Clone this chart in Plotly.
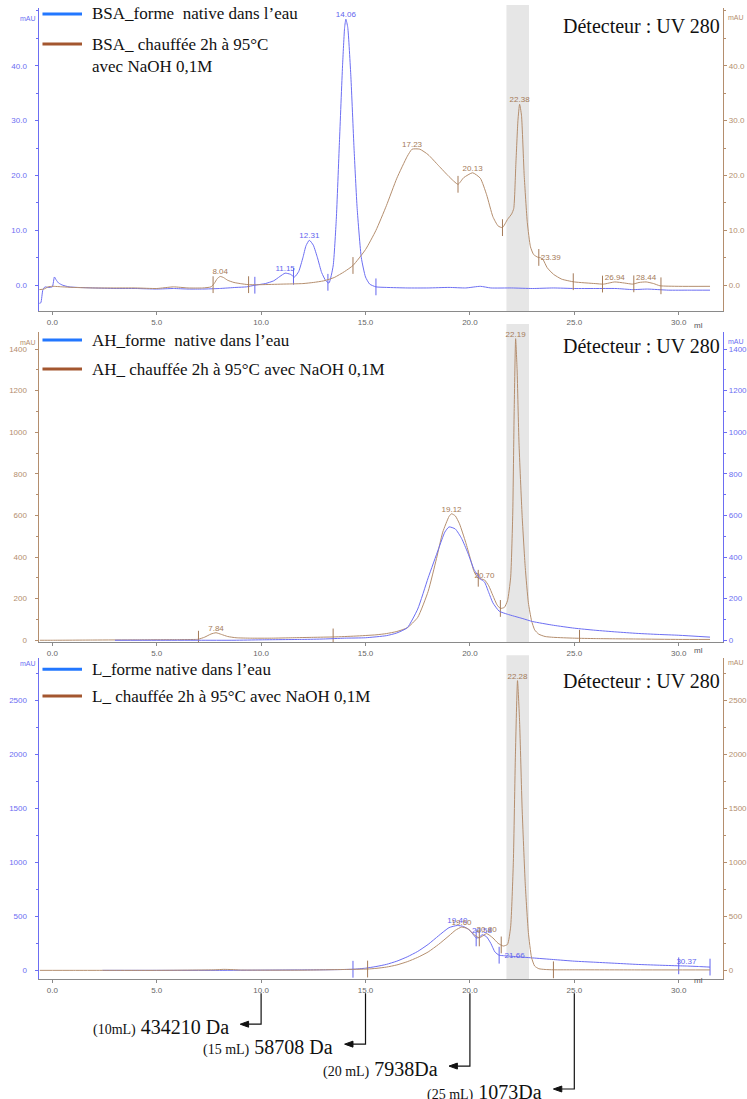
import numpy as np
import plotly.graph_objects as go

W, H = 747, 1099
def px(x): return x / W
def py(y): return 1 - y / H

# ---------------- DATA ----------------
# Panel 1 : BSA
bsa_nat_x = [-0.62, -0.55, -0.45, -0.35, -0.2, 0.0, 0.1, 0.18, 0.3, 0.5, 0.8, 1.2, 2.0, 3.0, 4.0, 5.0, 5.8, 6.5, 7.2, 8.0, 8.8, 9.3, 9.7, 10.2, 10.6, 10.9, 11.15, 11.4, 11.6, 11.8, 12.0, 12.15, 12.31, 12.5, 12.7, 12.9, 13.1, 13.25, 13.45, 13.6, 13.75, 13.9, 14.0, 14.06, 14.15, 14.3, 14.45, 14.6, 14.8, 15.0, 15.2, 15.5, 16.0, 17.0, 18.0, 19.0, 19.8, 20.5, 21.0, 22.0, 23.0, 24.0, 25.0, 26.0, 27.0, 27.8, 28.5, 29.5, 30.5, 31.5]
bsa_nat_y = [-3.3, -3.2, -0.8, -0.3, -0.4, -0.3, 1.5, 1.0, 0.4, 0.0, -0.3, -0.4, -0.5, -0.6, -0.6, -0.7, -0.6, -0.7, -0.7, -0.6, -0.4, -0.3, 0.0, 0.3, 0.8, 1.6, 2.2, 2.0, 1.5, 2.5, 5.0, 7.2, 8.2, 7.3, 5.0, 2.3, 0.8, 0.4, 3.5, 12.0, 26.0, 40.0, 47.0, 48.5, 47.0, 38.0, 25.0, 14.0, 5.0, 1.5, 0.2, -0.3, -0.4, -0.5, -0.5, -0.4, -0.5, -0.2, -0.5, -0.5, -0.6, -0.5, -0.6, -0.6, -0.6, -0.8, -0.7, -0.9, -0.9, -0.9]
bsa_heat_x = [-0.62, -0.4, -0.2, 0.0, 0.5, 1.0, 2.0, 3.0, 4.0, 5.0, 5.8, 6.5, 7.2, 7.6, 7.75, 7.9, 8.04, 8.2, 8.4, 8.7, 9.0, 9.4, 10.0, 11.0, 12.0, 12.5, 13.0, 13.5, 14.0, 14.4, 15.0, 15.5, 16.0, 16.5, 17.0, 17.23, 17.6, 18.0, 18.5, 19.0, 19.43, 19.7, 20.13, 20.5, 20.8, 21.1, 21.35, 21.56, 21.8, 22.0, 22.1, 22.2, 22.3, 22.38, 22.47, 22.6, 22.75, 22.9, 23.05, 23.25, 23.39, 23.5, 23.7, 24.0, 24.4, 25.0, 26.0, 26.4, 26.94, 27.4, 27.8, 28.1, 28.44, 28.8, 29.1, 30.0, 31.5]
bsa_heat_y = [-0.8, -0.7, -0.3, -0.2, -0.3, -0.4, -0.5, -0.5, -0.5, -0.6, -0.3, -0.5, -0.5, -0.3, 0.3, 1.2, 1.6, 1.4, 0.9, 0.5, 0.3, 0.1, 0.1, 0.2, 0.3, 0.5, 0.8, 1.4, 2.5, 3.6, 6.5, 10.0, 14.5, 19.5, 23.5, 24.8, 24.8, 23.8, 21.8, 19.8, 18.4, 19.6, 20.5, 19.5, 16.5, 12.5, 10.8, 10.5, 12.0, 13.0, 14.0, 22.0, 30.0, 33.0, 31.0, 20.0, 11.4, 7.0, 5.6, 5.1, 5.0, 4.7, 3.2, 2.0, 1.1, 0.6, 0.3, 0.2, 0.6, 0.4, 0.2, 0.5, 0.6, 0.3, -0.1, -0.2, -0.2]
bsa_nat_peaks = [11.15, 12.31, 14.06]
bsa_heat_peaks = [8.04, 17.23, 20.13, 22.38, 23.39, 26.94, 28.44]
bsa_nat_marks = [9.7, 11.55, 13.2, 15.5]
bsa_heat_marks = [7.7, 9.4, 14.4, 19.43, 21.56, 23.3, 24.95, 26.35, 27.85, 29.15]

# Panel 2 : AH
ah_heat_x = [-0.6, 0.0, 2.0, 4.0, 6.0, 6.9, 7.0, 7.3, 7.6, 7.84, 8.1, 8.4, 8.8, 9.5, 10.5, 11.5, 12.5, 13.5, 14.5, 15.5, 16.0, 16.5, 17.0, 17.5, 18.0, 18.4, 18.7, 19.0, 19.12, 19.3, 19.5, 19.8, 20.0, 20.2, 20.4, 20.7, 20.9, 21.1, 21.3, 21.46, 21.65, 21.8, 21.95, 22.05, 22.12, 22.19, 22.26, 22.35, 22.5, 22.65, 22.8, 22.95, 23.1, 23.3, 23.6, 24.0, 25.0, 26.0, 28.0, 30.0, 31.5]
ah_heat_y = [0, 0, 1, 2, 3, 4, 5, 15, 30, 36, 28, 18, 12, 10, 10, 12, 14, 16, 20, 26, 32, 42, 60, 110, 235, 393, 520, 595, 608, 598, 560, 470, 400, 330, 298, 290, 262, 215, 170, 153, 158, 190, 300, 600, 1100, 1450, 1300, 950, 600, 350, 180, 95, 50, 29, 18, 14, 10, 8, 6, 4, 4]
ah_nat_x = [3.0, 5.0, 7.0, 8.7, 10.0, 12.0, 13.0, 14.0, 15.0, 16.0, 16.5, 17.0, 17.5, 18.0, 18.5, 18.8, 19.0, 19.3, 19.6, 19.9, 20.2, 20.5, 20.7, 20.9, 21.1, 21.4, 21.8, 22.5, 23.0, 24.0, 25.0, 26.0, 27.0, 28.0, 29.0, 30.0, 31.5]
ah_nat_y = [0, 0, 0, 0, 2, 4, 6, 10, 12, 22, 35, 60, 150, 300, 440, 520, 545, 535, 490, 420, 340, 295, 280, 230, 180, 140, 125, 105, 90, 72, 58, 48, 40, 33, 28, 24, 15]
ah_heat_peaks = [7.84, 19.12, 20.70, 22.19]
ah_heat_marks = [7.0, 13.45, 20.4, 21.46, 25.25]

# Panel 3 : L
l_nat_x = [2.4, 4.0, 6.0, 8.0, 10.0, 12.0, 13.0, 14.0, 14.4, 15.0, 15.5, 16.0, 16.5, 17.0, 17.5, 18.0, 18.5, 19.0, 19.4, 19.7, 20.0, 20.3, 20.45, 20.58, 20.8, 21.0, 21.2, 21.4, 21.66, 22.0, 23.0, 24.0, 25.0, 26.0, 27.0, 28.0, 29.0, 30.0, 30.37, 31.0, 31.5]
l_nat_y = [0, 0, 0, 0, 2, 4, 5, 8, 10, 20, 35, 55, 85, 125, 175, 240, 320, 395, 415, 405, 370, 300, 305, 330, 310, 250, 170, 140, 135, 130, 115, 100, 85, 75, 65, 55, 48, 42, 40, 35, 30]
l_heat_x = [-0.6, 1.0, 2.4, 5.0, 7.8, 8.2, 8.6, 9.0, 12.0, 13.0, 14.0, 15.1, 15.5, 16.0, 16.5, 17.0, 17.5, 18.0, 18.5, 19.0, 19.3, 19.6, 19.9, 20.2, 20.45, 20.8, 21.1, 21.35, 21.6, 21.8, 21.95, 22.08, 22.18, 22.28, 22.38, 22.5, 22.65, 22.8, 22.95, 23.1, 23.3, 23.6, 24.0, 25.0, 28.0, 31.5]
l_heat_y = [0, 0, 0, 0, 5, 9, 7, 3, 2, 5, 8, 12, 18, 30, 50, 80, 120, 170, 240, 320, 370, 400, 385, 330, 300, 340, 300, 250, 225, 240, 400, 1000, 2000, 2680, 2300, 1500, 800, 350, 120, 40, 15, 8, 5, 5, 4, 4]
l_nat_peaks = [19.40, 20.58, 21.66, 30.37]
l_heat_peaks = [19.60, 20.80, 22.28]
l_nat_marks = [14.4, 20.3, 21.4, 30.0, 31.5]
l_heat_marks = [15.1, 20.45, 21.5, 24.0]

# Calibration annotations
calib_ml = [10, 15, 20, 25]
calib_vol = ["(10mL)", "(15 mL)", "(20 mL)", "(25 mL)"]
calib_da = ["434210 Da", "58708 Da", "7938Da", "1073Da"]

legend_native = ["BSA_forme  native dans l\u2019eau", "AH_forme  native dans l\u2019eau", "L_forme native dans l\u2019eau"]
legend_heat = ["BSA_ chauff\u00e9e 2h \u00e0 95\u00b0C<br>avec NaOH 0,1M", "AH_ chauff\u00e9e 2h \u00e0 95\u00b0C avec NaOH 0,1M", "L_ chauff\u00e9e 2h \u00e0 95\u00b0C avec NaOH 0,1M"]
detector_text = "D\u00e9tecteur : UV 280"

# ---------------- STYLE ----------------
BLUE = "#6c6ef2"
BROWN = "#b48e6e"
BLUE_T = "#6264ee"
BROWN_T = "#a47a58"
LEG_BLUE = "#2277ff"
LEG_BROWN = "#a3562f"
SANS = "Liberation Sans"
SERIF = "Liberation Serif"

X_DOMAIN = [px(39), px(732)]
X_RANGE = [-0.66, 32.13]

panels = [
    dict(top=8, bottom=312, zero=286, scale=5.5, ticks=[0, 10, 20, 30, 40], minor=5, fmt=".1f",
         left=BLUE, right=BROWN, leg_y=(14, 44), det_y=26),
    dict(top=333, bottom=644, zero=642, scale=0.20857, ticks=[0, 200, 400, 600, 800, 1000, 1200, 1400], minor=100, fmt="d",
         left=BROWN, right=BLUE, leg_y=(341, 370), det_y=347),
    dict(top=660, bottom=982, zero=973, scale=0.1084, ticks=[0, 500, 1000, 1500, 2000, 2500], minor=250, fmt="d",
         left=BLUE, right=BROWN, leg_y=(671, 698), det_y=683),
]

fig = go.Figure()
layout = dict(width=W, height=H, margin=dict(l=0, r=0, t=0, b=0),
              paper_bgcolor="white", plot_bgcolor="white", showlegend=False)
shapes, annotations = [], []

for i, p in enumerate(panels):
    n = i + 1
    xa = "xaxis" if n == 1 else f"xaxis{n}"
    xr = "x" if n == 1 else f"x{n}"
    yl_id = 2 * n - 1
    yr_id = 2 * n
    yl = "yaxis" if yl_id == 1 else f"yaxis{yl_id}"
    ylr = "y" if yl_id == 1 else f"y{yl_id}"
    yr = f"yaxis{yr_id}"
    yrange = [-(p["bottom"] - p["zero"]) / p["scale"], (p["zero"] - p["top"]) / p["scale"]]
    ydom = [py(p["bottom"]), py(p["top"])]
    layout[xa] = dict(domain=X_DOMAIN, range=X_RANGE, anchor=ylr, tickvals=[0, 5, 10, 15, 20, 25, 30],
                      tickformat=".1f", tickfont=dict(family=SANS, size=8, color="#666"),
                      showline=True, linecolor="#8a8a8a", linewidth=1, ticks="outside", ticklen=3,
                      tickcolor="#8a8a8a", showgrid=False, zeroline=False, fixedrange=True)
    common = dict(domain=ydom, range=yrange, tickvals=p["ticks"], tickformat=p["fmt"],
                  showgrid=False, zeroline=False, showline=True, linewidth=1, ticks="outside",
                  ticklen=3, fixedrange=True)
    layout[yl] = dict(common, anchor=xr, side="left", linecolor=p["left"], tickcolor=p["left"],
                      minor=dict(dtick=p["minor"], tick0=0, ticks="outside", ticklen=2, tickcolor=p["left"]),
                      tickfont=dict(family=SANS, size=8, color=p["left"]), ticklabelstandoff=6)
    layout[yr] = dict(common, anchor=xr, side="right", overlaying=ylr, linecolor=p["right"], tickcolor=p["right"],
                      minor=dict(dtick=p["minor"], tick0=0, ticks="outside", ticklen=2, tickcolor=p["right"]),
                      tickfont=dict(family=SANS, size=8, color=p["right"]), ticklabelstandoff=0)
    # shaded band
    shapes.append(dict(type="rect", xref=xr, yref=f"{ylr} domain", x0=21.75, x1=22.83, y0=0,
                       y1=1 + (8 if n == 2 else 3) / (p["bottom"] - p["top"]),
                       fillcolor="#e6e6e6", line=dict(width=0), layer="below"))
    # mAU labels
    annotations.append(dict(text="mAU", x=px(18), y=py(p["top"] + 5), xref="paper", yref="paper",
                            showarrow=False, font=dict(family=SANS, size=7, color=p["left"])))
    annotations.append(dict(text="mAU", x=px(735), y=py(p["top"] + 4), xref="paper", yref="paper",
                            xanchor="left", showarrow=False, font=dict(family=SANS, size=7, color=p["right"])))
    # ml label
    annotations.append(dict(text="ml", x=px(714), y=py(p["bottom"] + 8), xref="paper", yref="paper",
                            showarrow=False, font=dict(family=SANS, size=8, color="#555")))
    # legend
    ly1, ly2 = p["leg_y"]
    shapes.append(dict(type="line", xref="paper", yref="paper", x0=px(43), x1=px(83), y0=py(ly1), y1=py(ly1),
                       line=dict(color=LEG_BLUE, width=3)))
    shapes.append(dict(type="line", xref="paper", yref="paper", x0=px(43), x1=px(83), y0=py(ly2), y1=py(ly2),
                       line=dict(color=LEG_BROWN, width=3)))
    annotations.append(dict(text=legend_native[i], x=px(91), y=py(ly1), xref="paper", yref="paper",
                            xanchor="left", yanchor="middle", showarrow=False,
                            font=dict(family=SERIF, size=17, color="#111")))
    annotations.append(dict(text=legend_heat[i], x=px(91), y=py(ly2 - 11), xref="paper", yref="paper",
                            xanchor="left", yanchor="top", align="left", showarrow=False,
                            font=dict(family=SERIF, size=17, color="#111")))
    annotations.append(dict(text=detector_text, x=px(731), y=py(p["det_y"]), xref="paper", yref="paper",
                            xanchor="right", yanchor="middle", showarrow=False,
                            font=dict(family=SERIF, size=20, color="#111")))


def add_series(xs, ys, xr, yr, color, tcolor, peaks, marks, tpos=None):
    xs = np.array(xs, float); ys = np.array(ys, float)
    fig.add_trace(go.Scatter(x=xs, y=ys, xaxis=xr, yaxis=yr, mode="lines", hoverinfo="skip",
                             line=dict(color=color, width=1, shape="spline", smoothing=0.5)))
    if marks:
        my = np.interp(marks, xs, ys)
        fig.add_trace(go.Scatter(x=marks, y=my, xaxis=xr, yaxis=yr, mode="markers", hoverinfo="skip",
                                 marker=dict(symbol="line-ns", size=12, color=tcolor,
                                             line=dict(color=tcolor, width=1))))
    if peaks:
        pyv = np.interp(peaks, xs, ys)
        fig.add_trace(go.Scatter(x=peaks, y=pyv, xaxis=xr, yaxis=yr, mode="text", hoverinfo="skip",
                                 text=[f"{v:.2f}" for v in peaks],
                                 textposition=tpos or "top center", cliponaxis=False,
                                 textfont=dict(family=SANS, size=8, color=tcolor)))


add_series(bsa_nat_x, bsa_nat_y, "x", "y", BLUE, BLUE_T, bsa_nat_peaks, bsa_nat_marks)
add_series(bsa_heat_x, bsa_heat_y, "x", "y2", BROWN, BROWN_T, bsa_heat_peaks, bsa_heat_marks,
           ["top center", "top center", "top center", "top center", "middle right", "top center", "top center"])
add_series(ah_heat_x, ah_heat_y, "x2", "y3", BROWN, BROWN_T, ah_heat_peaks, ah_heat_marks)
add_series(ah_nat_x, ah_nat_y, "x2", "y4", BLUE, BLUE_T, None, None)
add_series(l_nat_x, l_nat_y, "x3", "y5", BLUE, BLUE_T, l_nat_peaks, l_nat_marks,
           ["top center", "top center", "middle right", "top center"])
add_series(l_heat_x, l_heat_y, "x3", "y6", BROWN, BROWN_T, l_heat_peaks, l_heat_marks)

# calibration arrows
label_y = [1027, 1047, 1069, 1092]
for ml, vol, da, ly in zip(calib_ml, calib_vol, calib_da, label_y):
    shapes.append(dict(type="path", xref="x3", yref="paper",
                       path=f"M {ml},{py(996)} L {ml},{py(ly)} L {ml - 0.6},{py(ly)}",
                       line=dict(color="#111", width=1.2)))
    shapes.append(dict(type="path", xref="x3", yref="paper",
                       path=f"M {ml - 1.0},{py(ly)} L {ml - 0.6},{py(ly - 3)} L {ml - 0.6},{py(ly + 3)} Z",
                       fillcolor="#111", line=dict(color="#111", width=1)))
    annotations.append(dict(text=f"<span style='font-size:14px'>{vol}</span> {da}", x=ml - 1.45,
                            y=py(ly + 3), xref="x3", yref="paper", xanchor="right", yanchor="middle",
                            showarrow=False, font=dict(family=SERIF, size=20, color="#111")))

layout["shapes"] = shapes
layout["annotations"] = annotations
fig.update_layout(**layout)
fig.write_html("out.html", config={"displayModeBar": False},
               post_script="document.body.style.margin='0';document.body.style.overflow='hidden';")
